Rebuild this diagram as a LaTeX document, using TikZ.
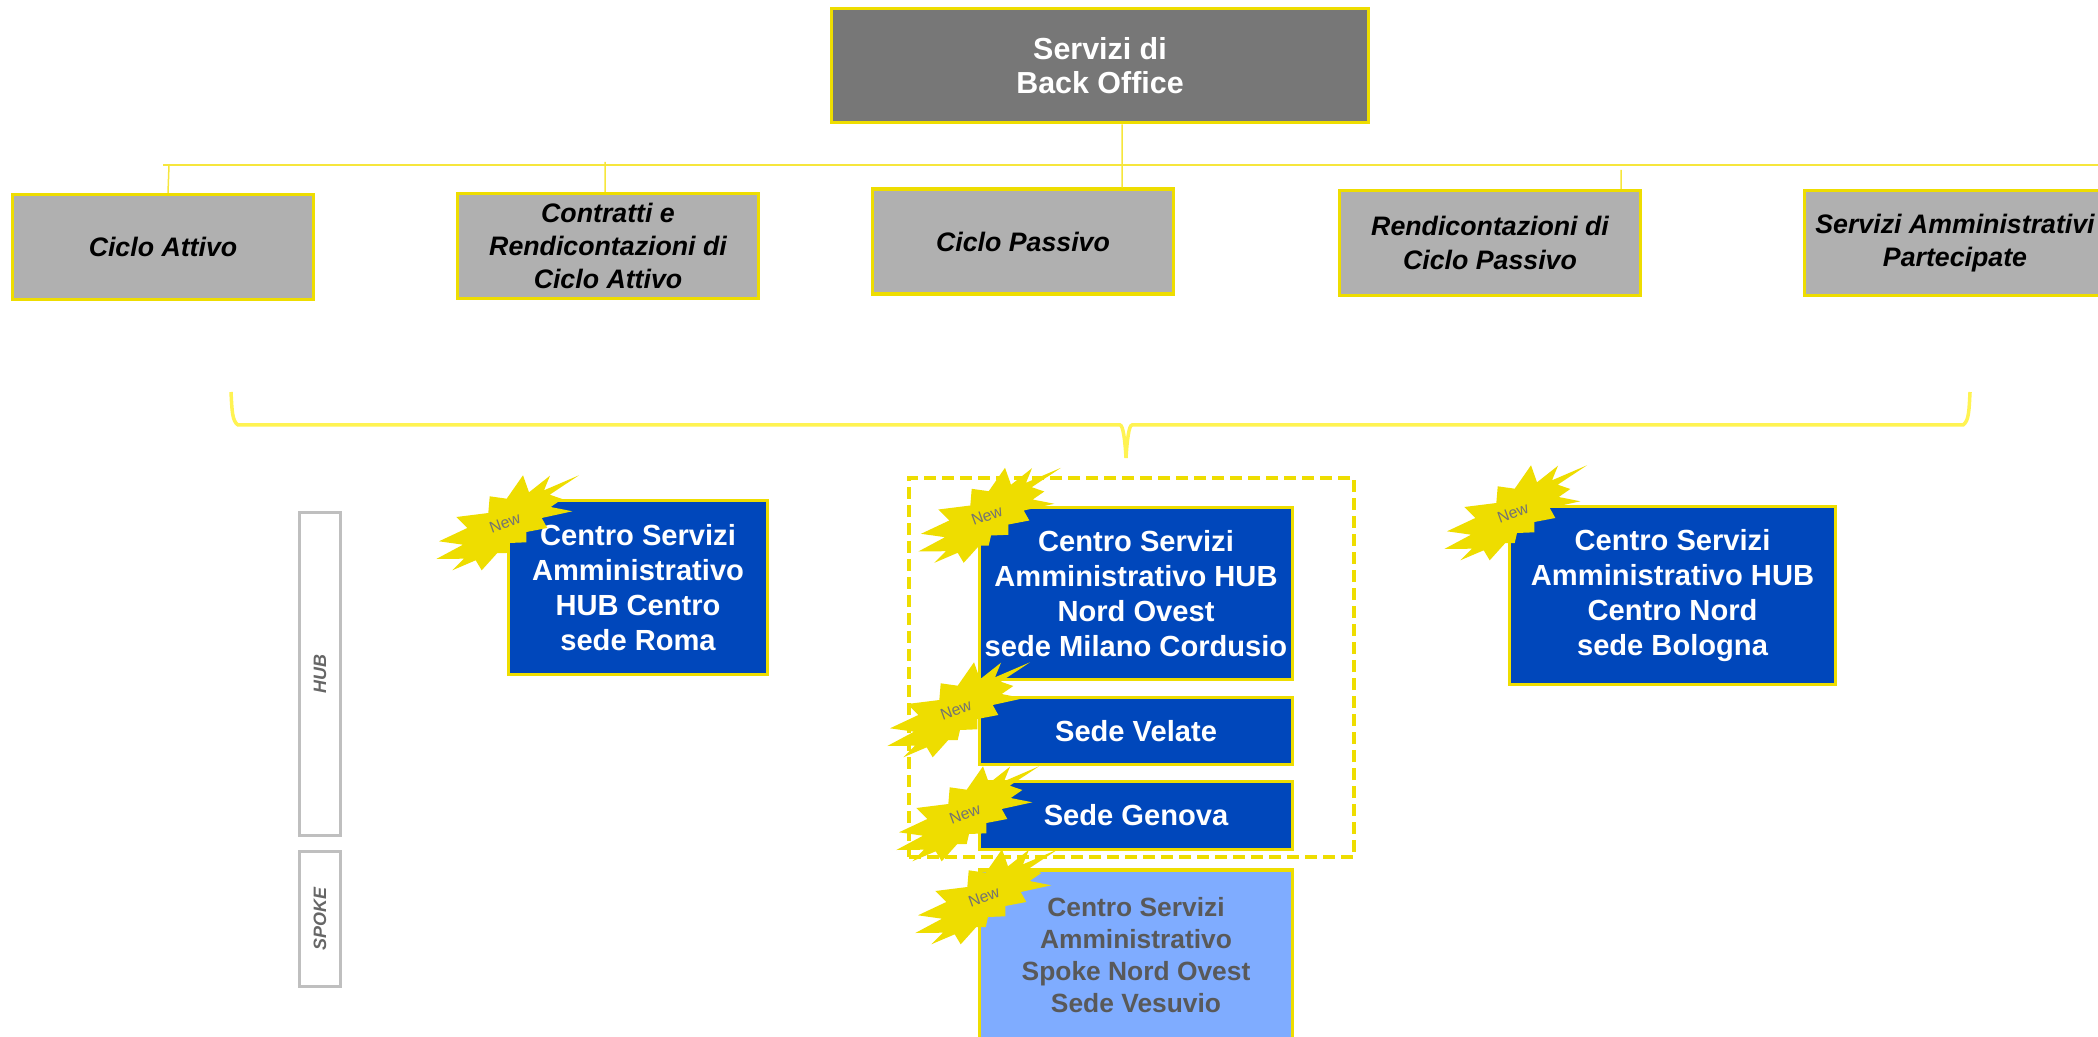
\documentclass[tikz,border=0pt]{standalone}
\usepackage{fontspec}
\setmainfont{Liberation Sans}
\usetikzlibrary{positioning}
\definecolor{boxyellow}{HTML}{EEDD00}
\definecolor{busyellow}{HTML}{F6E63C}
\definecolor{braceyellow}{HTML}{FFF352}
\definecolor{topgray}{HTML}{777777}
\definecolor{midgray}{HTML}{B0B0B0}
\definecolor{hubblue}{HTML}{0047BB}
\definecolor{spokeblue}{HTML}{7FACFF}
\definecolor{spoketext}{HTML}{595959}
\tikzset{
	topbox/.style={draw=boxyellow, line width=0.035cm, inner sep=0pt, fill=topgray, text=white, align=center, font=\fontsize{8.65}{9.8}\selectfont\bfseries},
	cyclebox/.style={draw=boxyellow, line width=0.035cm, inner sep=0pt, fill=midgray, minimum width=3.005cm, minimum height=1.045cm, align=center, font=\fontsize{7.6}{9.5}\selectfont\bfseries\itshape},
	hubbox/.style={draw=boxyellow, line width=0.035cm, inner sep=0pt, fill=hubblue, text=white, align=center, font=\fontsize{8.28}{10}\selectfont\bfseries},
	spokebox/.style={draw=boxyellow, line width=0.035cm, inner sep=0pt, fill=spokeblue, text=spoketext, align=center, font=\fontsize{7.5}{9.1}\selectfont\bfseries},
	sidebox/.style={draw=black!25, line width=0.03cm, inner sep=0pt, rotate=90, minimum height=0.41cm, text=black!60, font=\fontsize{5.1}{6}\selectfont\bfseries\itshape},
	busline/.style={busyellow, line width=0.015cm},
	burst/.pic={
		\fill[boxyellow] (74,-47.7) -- (44.7,-28.3) -- (57.3,-24) -- (45.7,-16) -- (67.3,-11.7) -- (36.7,-5) -- (42.3,5) -- (21.3,9) -- (21.3,19.3) -- (4,20) -- (1.7,30) -- (-7.7,30) -- (-23.3,47.3) -- (-29.3,37.3) -- (-52.7,47.3) -- (-41,35.7) -- (-68.7,36) -- (-42,21.7) -- (-66,18.3) -- (-37.7,5) -- (-48.7,-6) -- (-16.7,-10) -- (-15.3,-26.7) -- (1.7,-24.3) -- (18,-47.7) -- (24,-30.7) -- (45,-47.3) -- (39,-32.7) -- cycle;
		\node (-label) [rotate=20, text=black!55, font=\fontsize{4.5}{5}\selectfont] at (0,0) {New};
	}
}

\begin{document}
\begin{tikzpicture}[x=0.01cm, y=-0.01cm]
	\clip (0,0) rectangle (2098,1037);

	\node (top) [topbox, minimum width=5.37cm, minimum height=1.14cm] at (1100,65.5) {Servizi di\\Back Office};
	\node (attivo) [cyclebox] at (163,247) {Ciclo Attivo};
	\node (contratti) [cyclebox] at (608,246) {Contratti e\\Rendicontazioni di\\Ciclo Attivo};
	\node (passivo) [cyclebox] at (1023,241.5) {Ciclo Passivo};
	\node (rendic) [cyclebox] at (1490,243) {Rendicontazioni di\\Ciclo Passivo};
	\node (partecipate) [cyclebox] at (1955,243) {Servizi Amministrativi\\Partecipate};

	\coordinate (busL) at (163,165);
	\coordinate (busR) at (2098,165);
	\coordinate (tapA) at (169,165);
	\coordinate (tapB) at (605,162);
	\coordinate (tapC) at (1621,170);

	\draw [busline] (busL) to (busR);
	\draw [busline] ([xshift=0.22cm]top.south) to ([xshift=0.99cm]passivo.north);
	\draw [busline] ([xshift=0.05cm]attivo.north) to (tapA);
	\draw [busline] ([xshift=-0.03cm]contratti.north) to (tapB);
	\draw [busline] ([xshift=1.31cm]rendic.north) to (tapC);

	\draw [braceyellow, line width=0.035cm] (231,392) .. controls (232,410) and (232,421) .. (238,425) to (1120,425) .. controls (1123,425) and (1125,440) .. (1126,458) .. controls (1127,440) and (1129,425) .. (1132,425) to (1963,425) .. controls (1969,421) and (1969,410) .. (1970,392);

	\node (hubside) [sidebox, minimum width=3.23cm] at (320,674) {HUB};
	\node (spokeside) [sidebox, minimum width=1.35cm] at (320,919) {SPOKE};

	\node (group) [draw=boxyellow, line width=0.045cm, inner sep=0pt, dash pattern=on 0.12cm off 0.06cm, minimum width=4.45cm, minimum height=3.79cm] at (1131.5,667.5) {};

	\node (roma) [hubbox, minimum width=2.585cm, minimum height=1.735cm] at (638,587.5) {Centro Servizi\\Amministrativo\\HUB Centro\\sede Roma};
	\node (milano) [hubbox, minimum width=3.125cm, minimum height=1.715cm] at (1136,593.5) {Centro Servizi\\Amministrativo HUB\\Nord Ovest\\sede Milano Cordusio};
	\node (velate) [hubbox, minimum width=3.125cm, minimum height=0.665cm] at (1136,731) {Sede Velate};
	\node (genova) [hubbox, minimum width=3.125cm, minimum height=0.675cm] at (1136,815.5) {Sede Genova};
	\node (vesuvio) [spokebox, minimum width=3.125cm, minimum height=1.7cm] at (1136,955) {Centro Servizi\\Amministrativo\\Spoke Nord Ovest\\Sede Vesuvio};
	\node (bologna) [hubbox, minimum width=3.255cm, minimum height=1.775cm] at (1672.5,595.5) {Centro Servizi\\Amministrativo HUB\\Centro Nord\\sede Bologna};

	\pic (newroma) at (505,523) {burst};
	\pic (newmilano) at (987,515.5) {burst};
	\pic (newvelate) at (956,710) {burst};
	\pic (newgenova) at (965,814) {burst};
	\pic (newvesuvio) at (984,897) {burst};
	\pic (newbologna) at (1513,513) {burst};
\end{tikzpicture}
\end{document}
